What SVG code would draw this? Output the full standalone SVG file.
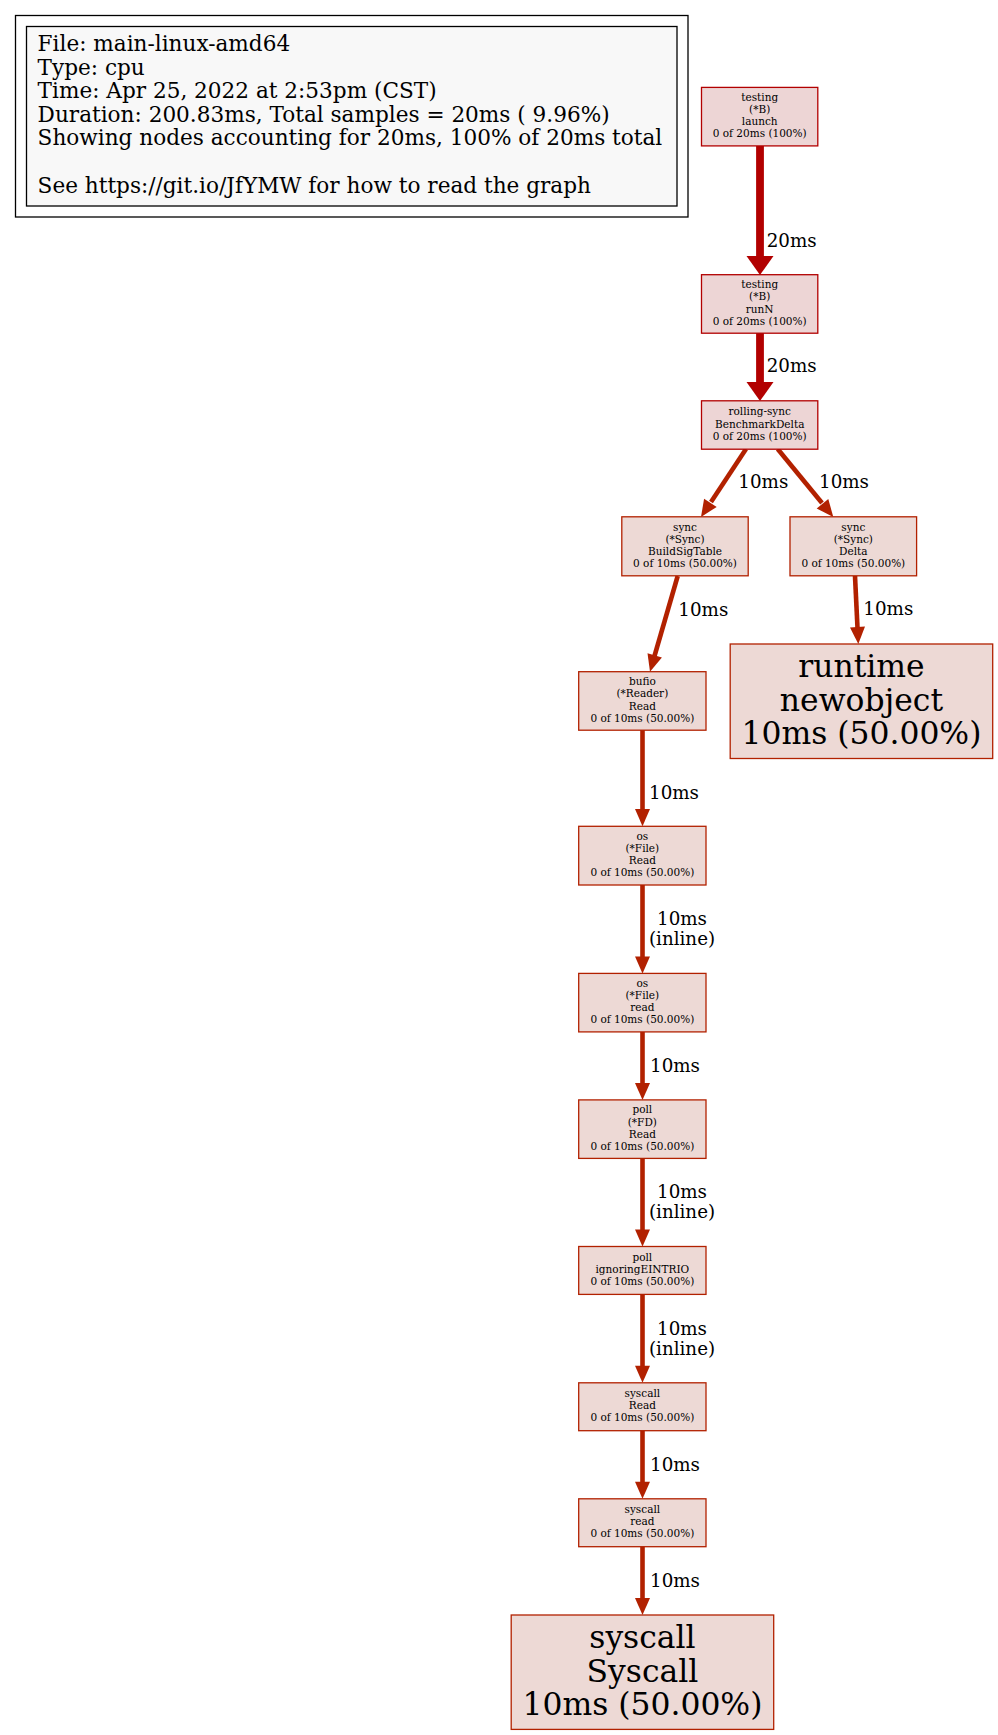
<svg xmlns="http://www.w3.org/2000/svg" width="998" height="1735" viewBox="0 0 998 1735">
<style>
text{font-family:"DejaVu Serif","Liberation Serif",serif;fill:#000}
.leg{font-size:21.6px}
.sm{font-size:10.5px;text-anchor:middle}
.lg{font-size:31.4px;text-anchor:middle}
.el{font-size:18.3px;text-anchor:middle}
.n100{fill:#edd5d5;stroke:#b20000;stroke-width:1.3}
.n50{fill:#edd9d5;stroke:#b22100;stroke-width:1.3}
.e20{stroke:#b20000;stroke-width:7.8;fill:none}
.e10{stroke:#b22100;stroke-width:4.6;fill:none}
.a20{fill:#b20000}
.a10{fill:#b22100}
</style>
<rect width="998" height="1735" fill="#fff"/>
<g id="legend">
<rect x="15.5" y="15.5" width="672.5" height="201.5" fill="none" stroke="#000" stroke-width="1.3"/>
<rect x="26.5" y="26.5" width="650.5" height="179.5" fill="#f8f8f8" stroke="#000" stroke-width="1.3"/>
<text class="leg" x="37.6" y="51">File: main-linux-amd64</text>
<text class="leg" x="37.6" y="74.5">Type: cpu</text>
<text class="leg" x="37.6" y="98">Time: Apr 25, 2022 at 2:53pm (CST)</text>
<text class="leg" x="37.6" y="121.5">Duration: 200.83ms, Total samples = 20ms ( 9.96%)</text>
<text class="leg" x="37.6" y="145">Showing nodes accounting for 20ms, 100% of 20ms total</text>
<text class="leg" x="37.6" y="192.5">See https://git.io/JfYMW for how to read the graph</text>
</g>
<g id="connectors">
<path class="e20" d="M760,146 L760,258"/>
<polygon class="a20" points="746.5,256 773.5,256 760,275"/>
<text class="el" x="791.7" y="246.6">20ms</text>
<path class="e20" d="M760,333 L760,384"/>
<polygon class="a20" points="746.5,382 773.5,382 760,401"/>
<text class="el" x="791.7" y="371.6">20ms</text>
<path class="e10" d="M746,449 L711,502"/>
<polygon class="a10" points="704.1,498.7 716.7,506.9 701,517"/>
<text class="el" x="763.3" y="488.3">10ms</text>
<path class="e10" d="M777.7,449 L822,503"/>
<polygon class="a10" points="816.7,508.5 828.3,499.1 833.3,517"/>
<text class="el" x="844" y="488.3">10ms</text>
<path class="e10" d="M677.7,576 L654.5,656"/>
<polygon class="a10" points="647.5,653.3 661.9,657.5 650,671.7"/>
<text class="el" x="703.3" y="616">10ms</text>
<path class="e10" d="M855,576 L857.5,628"/>
<polygon class="a10" points="850,627.4 865,626.6 858.3,644"/>
<text class="el" x="888.3" y="615">10ms</text>
<path class="e10" d="M642.5,730 L642.5,810"/>
<polygon class="a10" points="635,809 650,809 642.5,826.3"/>
<text class="el" x="674" y="798.8">10ms</text>
<path class="e10" d="M642.5,885 L642.5,958"/>
<polygon class="a10" points="635,956.5 650,956.5 642.5,973.4"/>
<text class="el" x="682" y="925">10ms</text>
<text class="el" x="682" y="945">(inline)</text>
<path class="e10" d="M642.5,1032 L642.5,1084"/>
<polygon class="a10" points="635,1083 650,1083 642.5,1099.9"/>
<text class="el" x="675" y="1071.6">10ms</text>
<path class="e10" d="M642.5,1158.4 L642.5,1230"/>
<polygon class="a10" points="635,1229.5 650,1229.5 642.5,1246.5"/>
<text class="el" x="682" y="1198.3">10ms</text>
<text class="el" x="682" y="1218.3">(inline)</text>
<path class="e10" d="M642.5,1294.4 L642.5,1367"/>
<polygon class="a10" points="635,1365.8 650,1365.8 642.5,1382.8"/>
<text class="el" x="682" y="1335">10ms</text>
<text class="el" x="682" y="1355">(inline)</text>
<path class="e10" d="M642.5,1430.7 L642.5,1483"/>
<polygon class="a10" points="635,1481.8 650,1481.8 642.5,1498.8"/>
<text class="el" x="675" y="1470.6">10ms</text>
<path class="e10" d="M642.5,1546.7 L642.5,1599"/>
<polygon class="a10" points="635,1598 650,1598 642.5,1615"/>
<text class="el" x="675" y="1586.6">10ms</text>
</g>
<g id="n1">
<rect class="n100" x="701.5" y="87.4" width="116.3" height="58.5"/>
<text class="sm" x="759.7" y="100.85">testing</text>
<text class="sm" x="759.7" y="113.05">(*B)</text>
<text class="sm" x="759.7" y="125.25">launch</text>
<text class="sm" x="759.7" y="137.45">0 of 20ms (100%)</text>
</g>
<g id="n2">
<rect class="n100" x="701.5" y="274.7" width="116.3" height="58.5"/>
<text class="sm" x="759.7" y="288.15">testing</text>
<text class="sm" x="759.7" y="300.35">(*B)</text>
<text class="sm" x="759.7" y="312.55">runN</text>
<text class="sm" x="759.7" y="324.75">0 of 20ms (100%)</text>
</g>
<g id="n3">
<rect class="n100" x="701.5" y="400.8" width="116.3" height="48.4"/>
<text class="sm" x="759.7" y="415.3">rolling-sync</text>
<text class="sm" x="759.7" y="427.5">BenchmarkDelta</text>
<text class="sm" x="759.7" y="439.7">0 of 20ms (100%)</text>
</g>
<g id="n4">
<rect class="n50" x="621.8" y="516.8" width="126.4" height="59"/>
<text class="sm" x="685" y="530.5">sync</text>
<text class="sm" x="685" y="542.7">(*Sync)</text>
<text class="sm" x="685" y="554.9">BuildSigTable</text>
<text class="sm" x="685" y="567.1">0 of 10ms (50.00%)</text>
</g>
<g id="n5">
<rect class="n50" x="790" y="516.8" width="126.6" height="59"/>
<text class="sm" x="853.3" y="530.5">sync</text>
<text class="sm" x="853.3" y="542.7">(*Sync)</text>
<text class="sm" x="853.3" y="554.9">Delta</text>
<text class="sm" x="853.3" y="567.1">0 of 10ms (50.00%)</text>
</g>
<g id="n6">
<rect class="n50" x="578.7" y="671.7" width="127.3" height="58.5"/>
<text class="sm" x="642.35" y="685.15">bufio</text>
<text class="sm" x="642.35" y="697.35">(*Reader)</text>
<text class="sm" x="642.35" y="709.55">Read</text>
<text class="sm" x="642.35" y="721.75">0 of 10ms (50.00%)</text>
</g>
<g id="n7">
<rect class="n50" x="730.2" y="644" width="262.5" height="114.5"/>
<text class="lg" x="861.45" y="677.25">runtime</text>
<text class="lg" x="861.45" y="710.75">newobject</text>
<text class="lg" x="861.45" y="744.25">10ms (50.00%)</text>
</g>
<g id="n8">
<rect class="n50" x="578.7" y="826.3" width="127.3" height="58.7"/>
<text class="sm" x="642.35" y="839.85">os</text>
<text class="sm" x="642.35" y="852.05">(*File)</text>
<text class="sm" x="642.35" y="864.25">Read</text>
<text class="sm" x="642.35" y="876.45">0 of 10ms (50.00%)</text>
</g>
<g id="n9">
<rect class="n50" x="578.7" y="973.4" width="127.3" height="58.5"/>
<text class="sm" x="642.35" y="986.85">os</text>
<text class="sm" x="642.35" y="999.05">(*File)</text>
<text class="sm" x="642.35" y="1011.25">read</text>
<text class="sm" x="642.35" y="1023.45">0 of 10ms (50.00%)</text>
</g>
<g id="n10">
<rect class="n50" x="578.7" y="1099.9" width="127.3" height="58.5"/>
<text class="sm" x="642.35" y="1113.35">poll</text>
<text class="sm" x="642.35" y="1125.55">(*FD)</text>
<text class="sm" x="642.35" y="1137.75">Read</text>
<text class="sm" x="642.35" y="1149.95">0 of 10ms (50.00%)</text>
</g>
<g id="n11">
<rect class="n50" x="578.7" y="1246.5" width="127.3" height="47.9"/>
<text class="sm" x="642.35" y="1260.75">poll</text>
<text class="sm" x="642.35" y="1272.95">ignoringEINTRIO</text>
<text class="sm" x="642.35" y="1285.15">0 of 10ms (50.00%)</text>
</g>
<g id="n12">
<rect class="n50" x="578.7" y="1382.8" width="127.3" height="47.9"/>
<text class="sm" x="642.35" y="1397.05">syscall</text>
<text class="sm" x="642.35" y="1409.25">Read</text>
<text class="sm" x="642.35" y="1421.45">0 of 10ms (50.00%)</text>
</g>
<g id="n13">
<rect class="n50" x="578.7" y="1498.8" width="127.3" height="47.9"/>
<text class="sm" x="642.35" y="1513.05">syscall</text>
<text class="sm" x="642.35" y="1525.25">read</text>
<text class="sm" x="642.35" y="1537.45">0 of 10ms (50.00%)</text>
</g>
<g id="n14">
<rect class="n50" x="511.2" y="1615" width="262.5" height="114.4"/>
<text class="lg" x="642.45" y="1648.2">syscall</text>
<text class="lg" x="642.45" y="1681.7">Syscall</text>
<text class="lg" x="642.45" y="1715.2">10ms (50.00%)</text>
</g>
</svg>
